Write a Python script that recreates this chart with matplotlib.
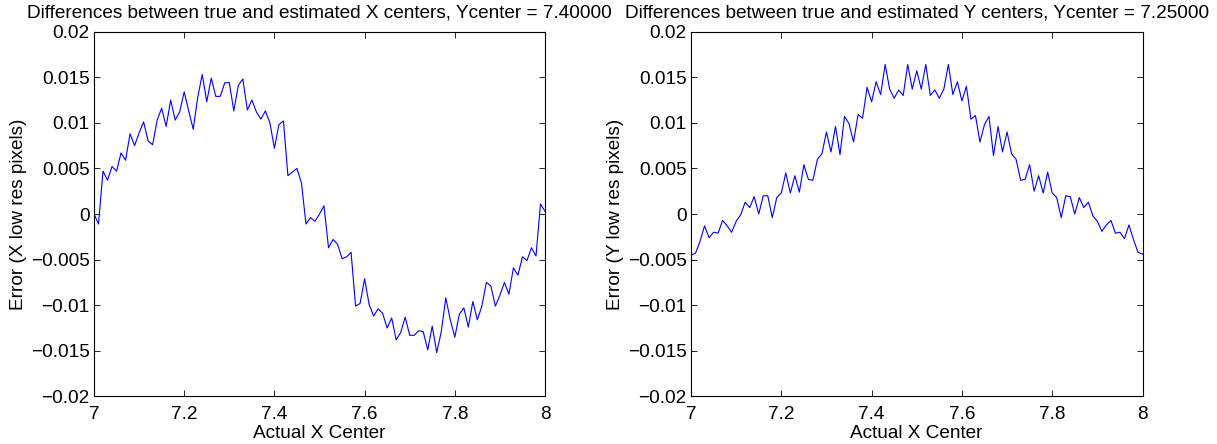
import numpy as np
import matplotlib
matplotlib.use("Agg")
import matplotlib.pyplot as plt

# ---------------- data ----------------
x_center = np.linspace(7.0, 8.0, 101)

x_error = [
    0.0000, -0.0011, 0.0047, 0.0037, 0.0052, 0.0047, 0.0067, 0.0059, 0.0088, 0.0075,
    0.0089, 0.0101, 0.0080, 0.0076, 0.0103, 0.0116, 0.0096, 0.0125, 0.0103, 0.0112,
    0.0134, 0.0113, 0.0093, 0.0128, 0.0153, 0.0123, 0.0149, 0.0129, 0.0129, 0.0144,
    0.0144, 0.0113, 0.0141, 0.0148, 0.0114, 0.0125, 0.0112, 0.0104, 0.0113, 0.0100,
    0.0072, 0.0098, 0.0102, 0.0042, 0.0046, 0.0050, 0.0034, -0.0011, -0.0004, -0.0008,
    0.0000, 0.0009, -0.0037, -0.0028, -0.0033, -0.0049, -0.0047, -0.0042, -0.0101, -0.0098,
    -0.0071, -0.0099, -0.0112, -0.0104, -0.0109, -0.0125, -0.0114, -0.0138, -0.0130, -0.0113,
    -0.0133, -0.0133, -0.0128, -0.0129, -0.0149, -0.0123, -0.0152, -0.0129, -0.0092, -0.0116,
    -0.0135, -0.0110, -0.0103, -0.0124, -0.0096, -0.0116, -0.0101, -0.0075, -0.0079, -0.0101,
    -0.0089, -0.0075, -0.0088, -0.0059, -0.0067, -0.0047, -0.0051, -0.0037, -0.0046, 0.0011,
    0.0003,
]

y_error = [
    -0.0045, -0.0043, -0.0030, -0.0013, -0.0026, -0.0020, -0.0021, -0.0007, -0.0013, -0.0020,
    -0.0008, -0.0001, 0.0013, 0.0007, 0.0019, 0.0000, 0.0020, 0.0020, -0.0004, 0.0018,
    0.0023, 0.0045, 0.0023, 0.0042, 0.0024, 0.0054, 0.0038, 0.0037, 0.0060, 0.0066,
    0.0090, 0.0068, 0.0096, 0.0065, 0.0107, 0.0099, 0.0079, 0.0109, 0.0105, 0.0139,
    0.0123, 0.0145, 0.0131, 0.0164, 0.0137, 0.0127, 0.0136, 0.0130, 0.0164, 0.0137,
    0.0157, 0.0137, 0.0164, 0.0130, 0.0136, 0.0127, 0.0137, 0.0164, 0.0131, 0.0145,
    0.0124, 0.0140, 0.0104, 0.0108, 0.0079, 0.0098, 0.0107, 0.0064, 0.0096, 0.0068,
    0.0090, 0.0066, 0.0060, 0.0037, 0.0038, 0.0054, 0.0025, 0.0042, 0.0023, 0.0046,
    0.0023, 0.0018, -0.0004, 0.0020, 0.0019, 0.0000, 0.0018, 0.0007, 0.0013, -0.0002,
    -0.0008, -0.0019, -0.0012, -0.0007, -0.0021, -0.0020, -0.0027, -0.0012, -0.0028, -0.0042,
    -0.0044,
]

x_ticks = [7.0, 7.2, 7.4, 7.6, 7.8, 8.0]
x_ticklabels = ["7", "7.2", "7.4", "7.6", "7.8", "8"]
y_ticks = [-0.02, -0.015, -0.01, -0.005, 0.0, 0.005, 0.01, 0.015, 0.02]
y_ticklabels = ["\u22120.02", "\u22120.015", "\u22120.01", "\u22120.005", "0",
                "0.005", "0.01", "0.015", "0.02"]

titles = ["Differences between true and estimated X centers, Ycenter = 7.40000",
          "Differences between true and estimated Y centers, Ycenter = 7.25000"]
ylabels = ["Error (X low res pixels)", "Error (Y low res pixels)"]
xlabel = "Actual X Center"

# ---------------- figure ----------------
plt.rcParams["font.family"] = ["Liberation Sans", "DejaVu Sans"]
FS = 13.7
W, H = 1217, 444
fig = plt.figure(figsize=(W / 100, H / 100), dpi=100)

ax_top, ax_bot = 31.6, 396.4
positions = [(94, 545), (691, 1142.5)]
series = [x_error, y_error]

for k, (x0, x1) in enumerate(positions):
    ax = fig.add_axes([x0 / W, (H - ax_bot) / H, (x1 - x0) / W, (ax_bot - ax_top) / H])
    ax.plot(x_center, series[k], color=(0, 0, 1), linewidth=0.8)
    ax.set_xlim(7, 8)
    ax.set_ylim(-0.02, 0.02)
    ax.set_xticks(x_ticks)
    ax.set_xticklabels(x_ticklabels)
    ax.set_yticks(y_ticks)
    ax.set_yticklabels(y_ticklabels)
    ax.tick_params(direction="in", top=True, right=True, length=4.5, width=0.6,
                   labelsize=FS, colors="black")
    ax.tick_params(axis="y", pad=3)
    ax.tick_params(axis="x", pad=7.2)
    for s in ax.spines.values():
        s.set_linewidth(0.8)
        s.set_color("black")
    ax.set_title(titles[k], fontsize=FS, pad=10.4)
    ax.set_ylabel(ylabels[k], fontsize=FS)
    ax.yaxis.set_label_coords(-0.149, 0.5)
    ax.set_xlabel(xlabel, fontsize=FS)
    ax.xaxis.set_label_coords(0.5, -0.079)

fig.savefig("out.png", dpi=100, facecolor="white")
